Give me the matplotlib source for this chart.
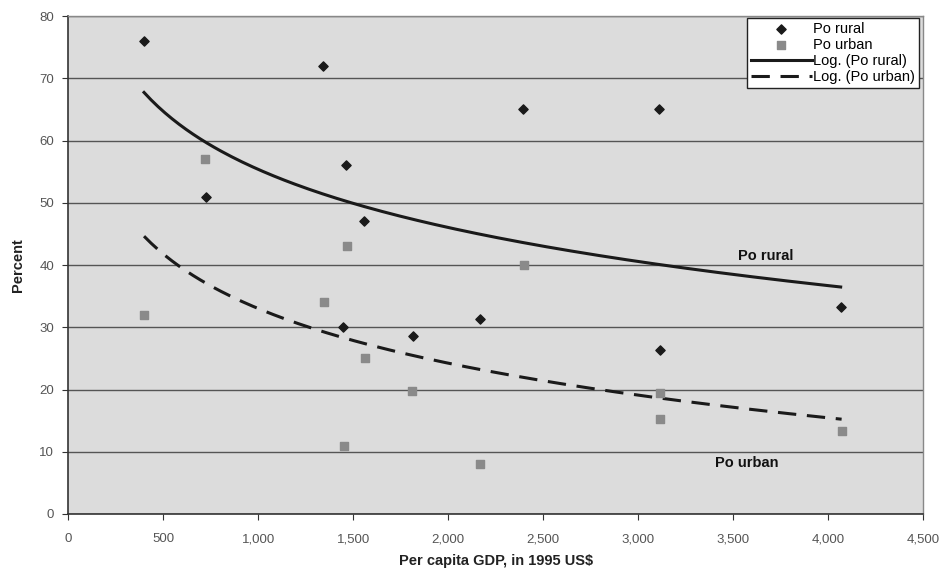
import numpy as np
import matplotlib
matplotlib.use("Agg")
import matplotlib.pyplot as plt
from matplotlib.ticker import FuncFormatter, MultipleLocator

plt.rcParams['font.family'] = ['Liberation Sans', 'DejaVu Sans']

# Data
rural_gdp = [400, 725, 1340, 1465, 1555, 1445, 1815, 2165, 2395, 3110, 3115, 4065]
rural_pct = [76, 51, 72, 56, 47, 30, 28.6, 31.3, 65, 65, 26.3, 33.3]
urban_gdp = [400, 720, 1470, 1345, 1560, 1810, 1450, 2170, 2400, 3115, 3115, 4070]
urban_pct = [32, 57, 43, 34, 25, 19.8, 11, 8.1, 40, 19.4, 15.3, 13.4]

fig = plt.figure(figsize=(9.42, 5.69), dpi=100)
ax = fig.add_axes([0.0722, 0.0967, 0.908, 0.875])
ax.set_facecolor('#dcdcdc')

ax.set_xlim(0, 4500)
ax.set_ylim(0, 80)
ax.yaxis.set_major_locator(MultipleLocator(10))
ax.xaxis.set_major_locator(MultipleLocator(500))
ax.xaxis.set_major_formatter(FuncFormatter(lambda v, p: f"{int(v):,}"))
ax.grid(axis='y', color='#555555', lw=1.0)
ax.set_axisbelow(True)

for s in ['left', 'bottom']:
    ax.spines[s].set_color('#333333')
    ax.spines[s].set_linewidth(1.2)
for s in ['right', 'top']:
    ax.spines[s].set_color('#888888')
    ax.spines[s].set_linewidth(1.0)

ax.tick_params(axis='both', labelsize=9.5, labelcolor='#555555', color='#333333',
               length=4, width=0.8, direction='out')
ax.tick_params(axis='x', pad=10)
ax.tick_params(axis='y', pad=6)

# Logarithmic trend lines
def logfit(x, y):
    a, b = np.polyfit(np.log(x), y, 1)
    return a, b

ar, br = logfit(rural_gdp, rural_pct)
au, bu = logfit(urban_gdp, urban_pct)
xr = np.linspace(min(rural_gdp), max(rural_gdp), 200)
xu = np.linspace(min(urban_gdp), max(urban_gdp), 200)

ax.scatter(rural_gdp, rural_pct, marker='D', s=22, color='#1a1a1a', zorder=3, label='Po rural')
ax.scatter(urban_gdp, urban_pct, marker='s', s=38, color='#8a8a8a', zorder=3, label='Po urban')
ax.plot(xr, ar * np.log(xr) + br, color='#1a1a1a', lw=2.2, label='Log. (Po rural)', zorder=2)
ax.plot(xu, au * np.log(xu) + bu, color='#1a1a1a', lw=2.2, dashes=(6, 3.5), label='Log. (Po urban)', zorder=2)

ax.text(3671, 41.4, 'Po rural', fontsize=10.5, fontweight='bold', ha='center', va='center', color='#111111')
ax.text(3569, 8.2, 'Po urban', fontsize=10.5, fontweight='bold', ha='center', va='center', color='#111111')

ax.set_ylabel('Percent', fontsize=10.5, fontweight='bold', color='#222222', labelpad=10)
ax.set_xlabel('Per capita GDP, in 1995 US$', fontsize=10.5, fontweight='bold', color='#222222', labelpad=6)

leg = ax.legend(loc='upper right', bbox_to_anchor=(1.0, 1.005), fontsize=10.5, frameon=True, fancybox=False,
                edgecolor='#222222', framealpha=1, borderpad=0.25, labelspacing=0.15, handlelength=4.2,
                handletextpad=0.1, borderaxespad=0.3)
leg.get_frame().set_linewidth(1.0)

fig.savefig('out.png', dpi=100, facecolor='white')
